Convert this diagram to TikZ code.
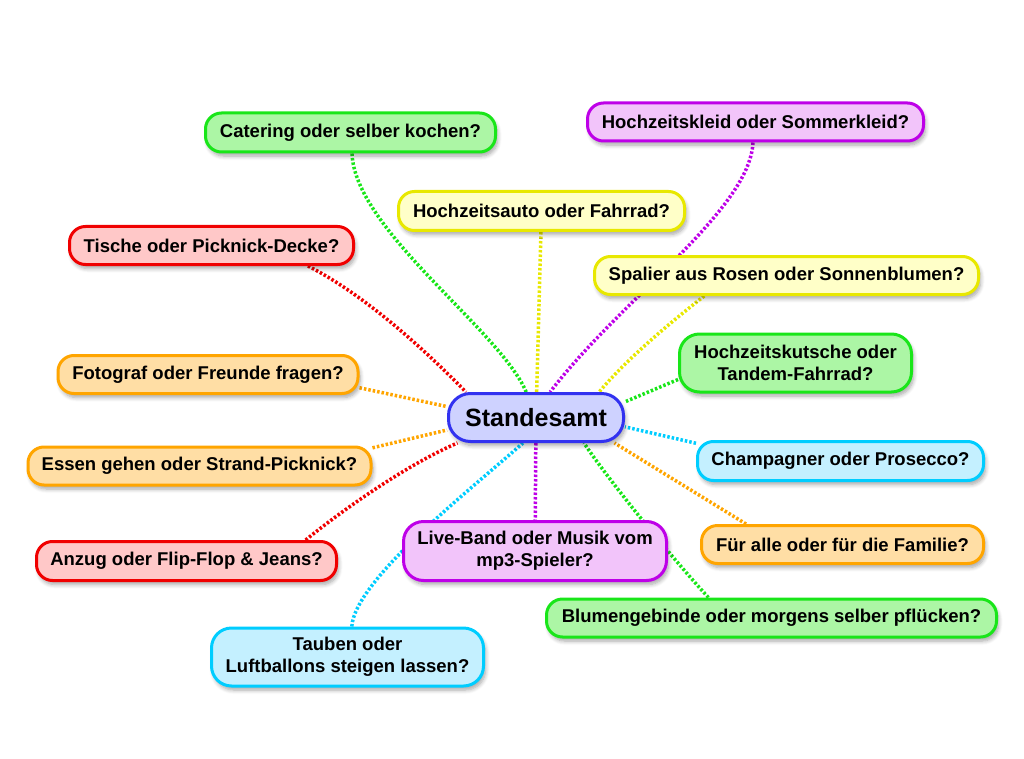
\documentclass[tikz,border=0pt]{standalone}
\usepackage{fontspec}
\setmainfont{Liberation Sans}
\usetikzlibrary{shadows,shadows.blur}
\pgfdeclarelayer{bg}
\pgfsetlayers{bg,main}
\definecolor{gB}{RGB}{25,230,25}   \definecolor{gF}{RGB}{172,246,165}
\definecolor{pB}{RGB}{190,0,232}   \definecolor{pF}{RGB}{242,196,250}
\definecolor{yB}{RGB}{232,232,0}   \definecolor{yF}{RGB}{255,255,200}
\definecolor{rB}{RGB}{240,0,0}     \definecolor{rF}{RGB}{255,200,200}
\definecolor{oB}{RGB}{255,165,0}   \definecolor{oF}{RGB}{255,222,165}
\definecolor{cB}{RGB}{0,205,255}   \definecolor{cF}{RGB}{196,240,255}
\definecolor{bB}{RGB}{50,50,240}   \definecolor{bF}{RGB}{206,210,255}
\begin{document}
\begin{tikzpicture}[x=1pt,y=-1pt,
  box/.style={draw, line width=3pt, rounded corners=16pt, inner sep=0pt, align=center,
    font=\bfseries\fontsize{18.5}{21.7}\selectfont,
    blur shadow={shadow xshift=2pt,shadow yshift=-4pt,shadow blur radius=4pt,shadow blur steps=6,shadow opacity=35}},
  twoline/.style={rounded corners=20pt},
  gbox/.style={box, draw=gB, fill=gF},
  pbox/.style={box, draw=pB, fill=pF},
  ybox/.style={box, draw=yB, fill=yF},
  rbox/.style={box, draw=rB, fill=rF},
  obox/.style={box, draw=oB, fill=oF},
  cbox/.style={box, draw=cB, fill=cF},
  con/.style={line width=3.5pt, dash pattern=on 2.5pt off 2pt}]
\useasboundingbox (0,0) rectangle (1024,759);

\node[box, draw=bB, fill=bF, rounded corners=22pt, minimum width=175pt, minimum height=48pt,
  font=\bfseries\fontsize{25}{28}\selectfont] (c) at (536,417.5) {Standesamt};

\node[gbox, minimum width=290pt, minimum height=39pt] (cat) at (350.5,132.5) {Catering oder selber kochen?};
\node[pbox, minimum width=336pt, minimum height=38pt] (hk) at (755.5,122) {Hochzeitskleid oder Sommerkleid?};
\node[ybox, minimum width=286pt, minimum height=39pt] (ha) at (541.5,211) {Hochzeitsauto oder Fahrrad?};
\node[rbox, minimum width=284pt, minimum height=38pt] (ti) at (211.5,245.5) {Tische oder Picknick-Decke?};
\node[ybox, minimum width=384pt, minimum height=38pt] (sp) at (786.5,275.5) {Spalier aus Rosen oder Sonnenblumen?};
\node[gbox, twoline, minimum width=232pt, minimum height=58pt] (hz) at (795.5,363) {Hochzeitskutsche oder\\Tandem-Fahrrad?};
\node[obox, minimum width=300pt, minimum height=38pt] (fo) at (208,374.5) {Fotograf oder Freunde fragen?};
\node[obox, minimum width=343pt, minimum height=38pt] (es) at (199.5,466) {Essen gehen oder Strand-Picknick?};
\node[cbox, minimum width=286pt, minimum height=39pt] (ch) at (840.5,461) {Champagner oder Prosecco?};
\node[pbox, twoline, minimum width=263pt, minimum height=59pt] (lb) at (535,551) {Live-Band oder Musik vom\\mp3-Spieler?};
\node[obox, minimum width=282pt, minimum height=38pt] (fa) at (842.5,544.5) {Für alle oder für die Familie?};
\node[rbox, minimum width=300pt, minimum height=39pt] (an) at (186.5,561) {Anzug oder Flip-Flop \& Jeans?};
\node[gbox, minimum width=450pt, minimum height=38pt] (bl) at (771.5,618) {Blumengebinde oder morgens selber pflücken?};
\node[cbox, twoline, minimum width=272pt, minimum height=58pt] (ta) at (347.5,657) {Tauben oder\\Luftballons steigen lassen?};

\begin{pgfonlayer}{bg}
\draw[con, gB] (cat.-86) .. controls (355,230) and (500,330) .. (c.111);
\draw[con, pB] (hk.-97) .. controls (750,210) and (620,300) .. (c.61);
\draw[con, yB] (ha) -- (c);
\draw[con, rB] (ti.-12.6) .. controls (365,295) and (425,350) .. (c.160);
\draw[con, yB] (sp.194.6) .. controls (680,315) and (630,355) .. (c.22.4);
\draw[con, gB] (hz.188.4) -- (c.10.3);
\draw[con, oB] (fo.-5.2) -- (c.173.8);
\draw[con, oB] (es.6.5) -- (c.188.3);
\draw[con, cB] (ch.173.5) -- (c.-6.9);
\draw[con, rB] (an.10.5) .. controls (345,508) and (410,463) .. (c.198);
\draw[con, pB] (c) -- (lb);
\draw[con, cB] (ta.82) .. controls (355,580) and (470,490) .. (c.-117);
\draw[con, gB] (bl.162) .. controls (665,550) and (605,475) .. (c.-28.5);
\draw[con, oB] (fa.168.6) -- (c.-18.3);
\end{pgfonlayer}
\end{tikzpicture}
\end{document}
